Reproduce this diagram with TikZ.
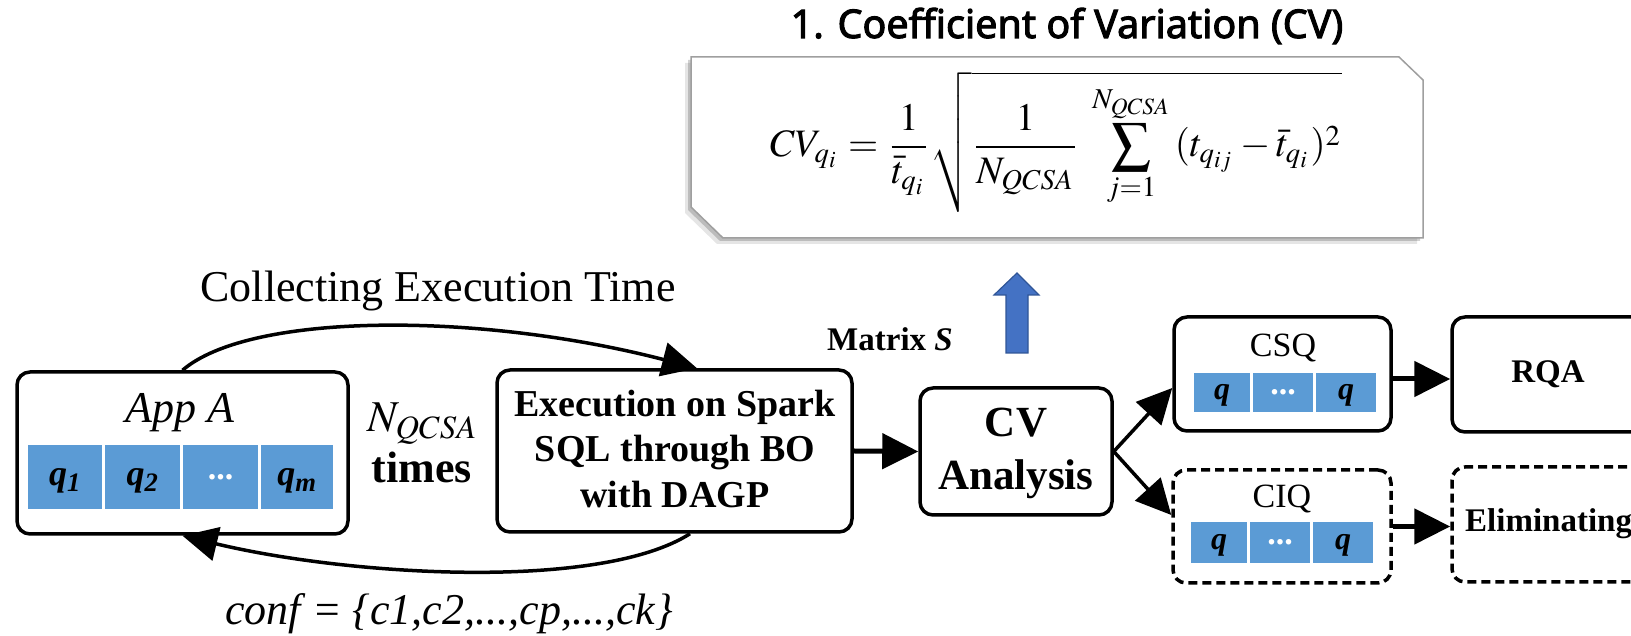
\documentclass[tikz,border=0pt]{standalone}
\usepackage{mathptmx}
\usepackage{fontspec}
\setmainfont{Liberation Serif}
\newfontfamily\titlefont{Noto Sans}[AutoFakeBold=2.6]
\usepackage{graphicx}
\usetikzlibrary{arrows.meta}
\definecolor{cellblue}{HTML}{5B9BD5}
\definecolor{upfill}{HTML}{4472C4}
\definecolor{upline}{HTML}{2F5597}
\newcommand{\myfs}[1]{\fontsize{#1}{#1}\selectfont}
\begin{document}
\begin{tikzpicture}[x=1pt,y=1pt,
  box/.style={draw, line width=3.5pt, rounded corners=13pt, inner sep=0pt},
  dbox/.style={box, dash pattern=on 9pt off 5pt},
  cell/.style={fill=cellblue, inner sep=0pt},
  txt/.style={inner sep=0pt, anchor=base},
  qlab/.style={inner sep=0pt, font=\myfs{36}\bfseries\itshape},
  qsm/.style={inner sep=0pt, font=\myfs{32}\bfseries\itshape},
  dots/.style={inner sep=0pt, text=white, font=\myfs{34}\bfseries},
  arr/.style={-{Triangle[length=36pt,width=35pt]}, line width=5pt},
  carr/.style={-{Triangle[length=35pt,width=34pt]}, line width=3.5pt}]
\useasboundingbox (0,0) rectangle (1631,636);
\clip (0,0) rectangle (1631,636);

% title
\node[txt] (title) at (1067,598) {\titlefont\myfs{39.5}\bfseries 1. Coefficient of Variation (CV)};

% formula box with shadow
\fill[black, opacity=0.10] (685,573) -- (1393,573) -- (1417,550) -- (1417,392) -- (717,392) -- (685,423) -- cycle;
\fill[black, opacity=0.18] (688,576) -- (1396,576) -- (1420,553) -- (1420,395) -- (720,395) -- (688,426) -- cycle;
\draw[fill=white, draw=gray!75, line width=1.5pt] (691,579) -- (1399,579) -- (1423,556) -- (1423,398) -- (723,398) -- (691,429) -- cycle;
\node[inner sep=0pt] (formula) at (1056,494) {\resizebox{572pt}{!}{$\displaystyle CV_{q_i}=\frac{1}{\bar{t}_{q_i}}\sqrt{\frac{1}{N_{QCSA}}\;\sum_{j=1}^{N_{QCSA}}\,(t_{q_{ij}}-\bar{t}_{q_i})^2}$}};

% collecting / conf
\node[txt, font=\myfs{44}] (collect) at (438,334) {Collecting Execution Time};
\node[txt, font=\myfs{44}\itshape] (conf) at (449,11) {conf = \{c1,c2,...,cp,...,ck\}};

% App A
\node[box, minimum width=331pt, minimum height=162pt] (app) at (182.5,183) {};
\node[txt, font=\myfs{44}\itshape] (appname) at (179.5,213) {App A};
\node[cell, minimum width=74pt, minimum height=64pt] (a1) at (65,159) {};
\node[cell, minimum width=75pt, minimum height=64pt] (a2) at (142.5,159) {};
\node[cell, minimum width=75pt, minimum height=64pt] (a3) at (220.5,159) {};
\node[cell, minimum width=72pt, minimum height=64pt] (a4) at (297,159) {};
\node[qlab] (q1) at (65,155) {q\textsubscript{1}};
\node[qlab] (q2) at (142.5,155) {q\textsubscript{2}};
\node[dots] (ad) at (220.5,159) {...};
\node[qlab] (qm) at (297,155) {q\textsubscript{m}};

% N times
\node[txt, font=\myfs{44}] (nq) at (422,204) {$N_{QCSA}$};
\node[txt, font=\myfs{44}\bfseries] (times) at (422,153) {times};

% Execution
\node[box, minimum width=355pt, minimum height=162pt] (exec) at (674.5,185) {};
\node[txt, font=\myfs{38}\bfseries] (e1) at (675,219) {Execution on Spark};
\node[txt, font=\myfs{38}\bfseries] (e2) at (675,174) {SQL through BO};
\node[txt, font=\myfs{38}\bfseries] (e3) at (675,128) {with DAGP};

% CV analysis
\node[box, minimum width=192pt, minimum height=127pt] (cv) at (1016,184.5) {};
\node[txt, font=\myfs{43}\bfseries] (cv1) at (1016,199) {CV};
\node[txt, font=\myfs{43}\bfseries] (cv2) at (1016,146) {Analysis};

% Matrix S and up arrow
\node[txt, font=\myfs{33}\bfseries] (matrix) at (890,285) {Matrix \textit{S}};
\draw[fill=upfill, draw=upline, line width=1.2pt] (1006,283) -- (1006,341) -- (994,341) -- (1017,363) -- (1039,341) -- (1028,341) -- (1028,283) -- cycle;

% CSQ
\node[box, minimum width=217pt, minimum height=114pt] (csq) at (1282.5,262) {};
\node[txt, font=\myfs{34}] (csqt) at (1283,279) {CSQ};
\node[cell, minimum width=56pt, minimum height=39pt] (s1) at (1222,243.5) {};
\node[cell, minimum width=60pt, minimum height=39pt] (s2) at (1283,243.5) {};
\node[cell, minimum width=60pt, minimum height=39pt] (s3) at (1346,243.5) {};
\node[qsm] at (1222,241) {q};
\node[dots] at (1283,243.5) {...};
\node[qsm] at (1346,241) {q};

% CIQ
\node[dbox, minimum width=218pt, minimum height=113pt] (ciq) at (1282,109.5) {};
\node[txt, font=\myfs{34}] (ciqt) at (1282,128) {CIQ};
\node[cell, minimum width=56pt, minimum height=41pt] (c1) at (1219,93.5) {};
\node[cell, minimum width=60pt, minimum height=41pt] (c2) at (1280,93.5) {};
\node[cell, minimum width=60pt, minimum height=41pt] (c3) at (1343,93.5) {};
\node[qsm] at (1219,91) {q};
\node[dots] at (1280,93.5) {...};
\node[qsm] at (1343,91) {q};

% RQA and Eliminating
\node[box, minimum width=300pt, minimum height=115pt] (rqa) at (1602,261.5) {};
\node[txt, font=\myfs{33}\bfseries] (rqat) at (1548,253) {RQA};
\node[dbox, minimum width=300pt, minimum height=115pt] (elim) at (1602,111.5) {};
\node[txt, anchor=base west, font=\myfs{33}\bfseries] (elimt) at (1465,104) {Eliminating};

% connectors
\draw[carr] (app.north) .. controls (250,324) and (480,324) .. ([xshift=22.5pt]exec.north);
\draw[carr] ([xshift=15.5pt]exec.south) .. controls (600,45) and (350,60) .. (app.south);
\draw[arr] (exec.east) -- (cv.west);
\draw[carr] (cv.east) -- ([yshift=-14pt]csq.west);
\draw[carr] (cv.east) -- ([yshift=11.5pt]ciq.west);
\draw[arr] ([yshift=-5pt]csq.east) -- ([yshift=-5pt]csq.east -| rqa.west);
\draw[arr] (ciq.east) -- (ciq.east -| elim.west);
\end{tikzpicture}
\end{document}
